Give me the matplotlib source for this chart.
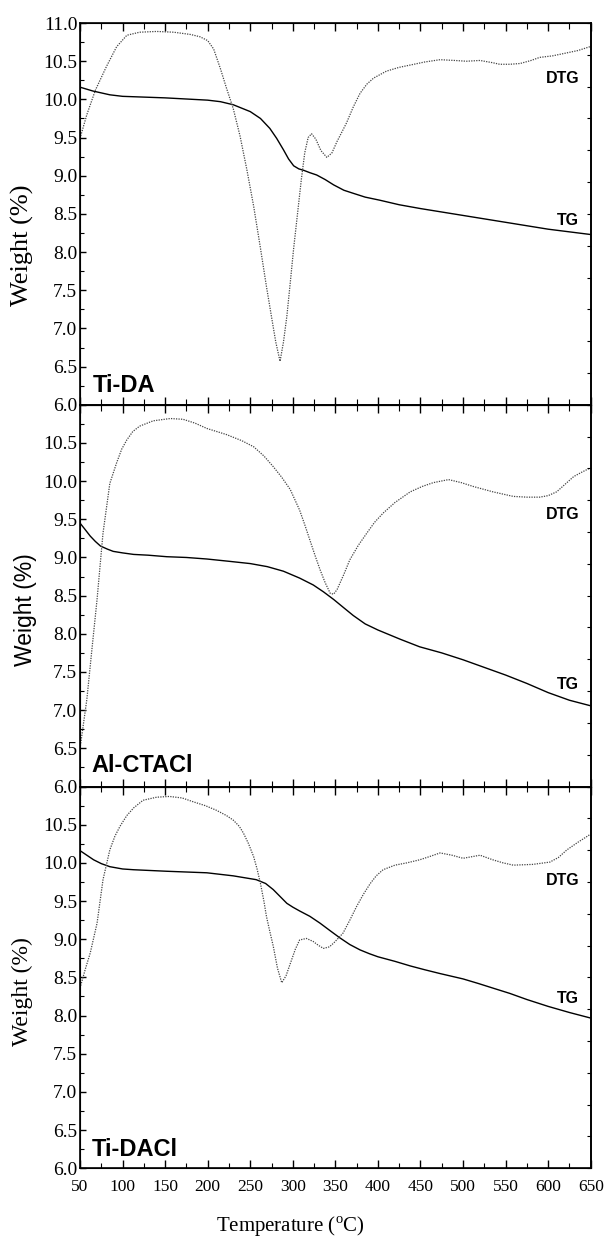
import matplotlib
matplotlib.use("Agg")
import matplotlib.pyplot as plt
from matplotlib.ticker import MultipleLocator, FixedLocator

plt.rcParams['font.family'] = ['Liberation Serif', 'DejaVu Serif']
plt.rcParams['mathtext.fontset'] = 'custom'
plt.rcParams['mathtext.rm'] = 'Liberation Serif'

# Ti-DA
t1_tg = [50, 65, 85, 100, 125, 150, 200, 215, 230, 250, 262, 273, 281, 289, 295, 301, 307, 313, 320, 328, 338,
         348, 360, 371, 385, 402, 425, 450, 500, 550, 600, 650]
w1_tg = [10.16, 10.11, 10.06, 10.04, 10.03, 10.02, 9.99, 9.97, 9.93, 9.84, 9.75, 9.62, 9.49, 9.34, 9.22, 9.13,
         9.09, 9.07, 9.04, 9.01, 8.95, 8.88, 8.81, 8.77, 8.72, 8.68, 8.62, 8.57, 8.48, 8.39, 8.30, 8.23]
t1_dtg = [50, 58, 68, 81, 93, 105, 120, 140, 160, 180, 191, 200, 207, 215, 222, 230, 238, 246, 254, 262, 269, 275,
          280, 285, 289, 293, 297, 301, 306, 310, 314, 318, 322, 327, 333, 340, 346, 352, 358, 363, 371, 379, 387,
          395, 410, 425, 438, 455, 473, 490, 504, 520, 535, 543, 555, 567, 580, 590, 605, 618, 635, 649]
w1_dtg = [9.49, 9.80, 10.12, 10.43, 10.69, 10.84, 10.88, 10.89, 10.88, 10.85, 10.82, 10.77, 10.66, 10.40, 10.15,
          9.88, 9.52, 9.08, 8.60, 8.05, 7.55, 7.15, 6.82, 6.57, 6.82, 7.16, 7.60, 8.05, 8.55, 8.95, 9.30, 9.50,
          9.55, 9.48, 9.33, 9.24, 9.30, 9.45, 9.58, 9.69, 9.90, 10.08, 10.20, 10.28, 10.37, 10.42, 10.45, 10.49,
          10.52, 10.51, 10.50, 10.51, 10.48, 10.46, 10.46, 10.47, 10.51, 10.55, 10.57, 10.60, 10.64, 10.69]

# Al-CTACl
t2_tg = [50, 55, 62, 68, 74, 82, 89, 100, 113, 130, 152, 175, 199, 225, 250, 270, 289, 308, 324, 336, 348, 360,
         371, 385, 400, 426, 449, 475, 500, 525, 550, 575, 600, 625, 649]
w2_tg = [9.45, 9.38, 9.28, 9.21, 9.15, 9.11, 9.08, 9.06, 9.04, 9.03, 9.01, 9.00, 8.98, 8.95, 8.92, 8.88, 8.82,
         8.73, 8.64, 8.55, 8.45, 8.34, 8.24, 8.13, 8.05, 7.93, 7.83, 7.75, 7.66, 7.56, 7.46, 7.35, 7.23, 7.13, 7.06]
t2_dtg = [50, 58, 64, 70, 77, 85, 93, 99, 105, 112, 120, 136, 156, 171, 185, 199, 222, 240, 254, 266, 277, 287,
          297, 308, 314, 320, 326, 332, 338, 344, 348, 352, 360, 367, 377, 387, 396, 406, 420, 438, 452, 465, 483,
          498, 512, 535, 559, 575, 590, 600, 610, 620, 630, 640, 649]
w2_dtg = [6.50, 7.14, 7.80, 8.45, 9.32, 9.97, 10.24, 10.42, 10.54, 10.65, 10.72, 10.79, 10.82, 10.81, 10.76,
          10.69, 10.61, 10.53, 10.45, 10.33, 10.19, 10.05, 9.89, 9.62, 9.43, 9.23, 9.03, 8.84, 8.67, 8.53, 8.52,
          8.58, 8.78, 8.97, 9.16, 9.32, 9.46, 9.58, 9.72, 9.86, 9.93, 9.98, 10.02, 9.98, 9.93, 9.86, 9.80, 9.79,
          9.79, 9.81, 9.86, 9.96, 10.06, 10.12, 10.17]

# Ti-DACl
t3_tg = [50, 58, 66, 75, 85, 100, 113, 152, 199, 230, 257, 268, 277, 285, 293, 300, 308, 320, 332, 344, 355, 367,
         379, 390, 400, 420, 438, 455, 473, 500, 518, 535, 555, 575, 600, 625, 649]
w3_tg = [10.16, 10.10, 10.04, 9.99, 9.95, 9.92, 9.91, 9.89, 9.87, 9.83, 9.78, 9.73, 9.65, 9.56, 9.47, 9.42, 9.37,
         9.30, 9.21, 9.11, 9.02, 8.93, 8.86, 8.81, 8.77, 8.71, 8.65, 8.60, 8.55, 8.48, 8.42, 8.36, 8.29, 8.21,
         8.12, 8.04, 7.97]
t3_dtg = [50, 56, 62, 70, 77, 85, 91, 97, 105, 113, 124, 140, 155, 170, 183, 197, 210, 222, 230, 237, 242, 248,
          254, 258, 262, 266, 269, 273, 277, 282, 287, 292, 297, 303, 308, 316, 324, 330, 336, 343, 348, 354, 359,
          367, 375, 383, 391, 398, 406, 420, 434, 449, 460, 473, 487, 500, 510, 520, 535, 547, 559, 582, 602, 612,
          622, 635, 649]
w3_dtg = [8.36, 8.60, 8.82, 9.21, 9.78, 10.17, 10.35, 10.48, 10.62, 10.72, 10.82, 10.86, 10.87, 10.85, 10.80,
          10.75, 10.69, 10.62, 10.56, 10.48, 10.39, 10.25, 10.08, 9.92, 9.73, 9.50, 9.30, 9.10, 8.91, 8.62, 8.43,
          8.52, 8.68, 8.87, 8.99, 9.01, 8.97, 8.92, 8.88, 8.90, 8.95, 9.02, 9.08, 9.25, 9.43, 9.59, 9.73, 9.83,
          9.91, 9.97, 10.00, 10.04, 10.08, 10.13, 10.10, 10.06, 10.08, 10.10, 10.04, 10.00, 9.97, 9.98, 10.01,
          10.07, 10.17, 10.27, 10.37]

panels = [
    ("Ti-DA", t1_tg, w1_tg, t1_dtg, w1_dtg),
    ("Al-CTACl", t2_tg, w2_tg, t2_dtg, w2_dtg),
    ("Ti-DACl", t3_tg, w3_tg, t3_dtg, w3_dtg),
]
# label positions (axes fraction): name, DTG, TG
label_pos = [
    ((0.025, 0.034), (0.978, 0.842), (0.976, 0.471)),
    ((0.023, 0.039), (0.978, 0.701), (0.976, 0.256)),
    ((0.023, 0.032), (0.978, 0.742), (0.976, 0.432)),
]
ylabel_pos = [(0.0364, 0.8023, 'serif', 19), (0.0414, 0.5077, 'sans', 16.5), (0.0373, 0.1994, 'serif', 17)]

fig, axes = plt.subplots(3, 1, figsize=(6.04, 12.39), dpi=100, sharex=True)
fig.subplots_adjust(left=0.1325, right=0.978, bottom=0.0571, top=0.9814, hspace=0)

yt = [6.0 + 0.5 * i for i in range(11)]
for i, (ax, (name, ttg, wtg, tdtg, wdtg)) in enumerate(zip(axes, panels)):
    ax.plot(ttg, wtg, color='black', lw=1.0)
    ax.plot(tdtg, wdtg, color='#444444', lw=0.9, linestyle=(0, (1, 1)))
    ax.set_xlim(50, 650)
    ax.set_ylim(6.0, 11.0)
    ax.yaxis.set_major_locator(FixedLocator(yt))
    ax.yaxis.set_minor_locator(MultipleLocator(0.25))
    labs = ['%.1f' % v for v in yt]
    if i > 0:
        labs[-1] = ''
    ax.set_yticklabels(labs)
    ax.tick_params(axis='y', which='both', direction='in', left=True, right=False, labelsize=14, pad=2)
    ax.tick_params(axis='y', which='major', length=4, width=1)
    ax.tick_params(axis='y', which='minor', length=3, width=0.8)
    for sp in ax.spines.values():
        sp.set_linewidth(1.2)

    # right-hand DTG scale ticks (no labels)
    ax2 = ax.twinx()
    ax2.set_ylim(0, 12)
    ax2.yaxis.set_major_locator(MultipleLocator(1))
    ax2.tick_params(axis='y', direction='in', length=3, width=0.8, labelright=False)
    ax2.spines['right'].set_linewidth(1.2)

    if i < 2:
        ax.xaxis.set_major_locator(MultipleLocator(100))
        ax.xaxis.set_minor_locator(MultipleLocator(50))
        ax.tick_params(axis='x', which='both', direction='in', top=True, bottom=True, labelbottom=False)
        ax.tick_params(axis='x', which='major', length=6, width=1)
        ax.tick_params(axis='x', which='minor', length=4.5, width=0.8)
    else:
        ax.xaxis.set_major_locator(MultipleLocator(50))
        ax.xaxis.set_minor_locator(MultipleLocator(25))
        ax.tick_params(axis='x', which='both', direction='in', top=True, bottom=True, labelsize=12.5, pad=7.5)
        ax.tick_params(axis='x', which='major', length=6, width=1)
        ax.tick_params(axis='x', which='minor', length=3.5, width=0.8)

    (nx, ny), (dx, dy), (gx, gy) = label_pos[i]
    ax.text(nx, ny, name, transform=ax.transAxes, family='Liberation Sans', fontweight='bold',
            fontsize=17, ha='left', va='baseline')
    ax.text(dx, dy, 'DTG', transform=ax.transAxes, family='Liberation Sans', fontweight='bold',
            fontsize=11.5, ha='right', va='baseline')
    ax.text(gx, gy, 'TG', transform=ax.transAxes, family='Liberation Sans', fontweight='bold',
            fontsize=11.5, ha='right', va='baseline')

    lx, ly, kind, fs = ylabel_pos[i]
    fam = 'Liberation Serif' if kind == 'serif' else 'Liberation Sans'
    fig.text(lx, ly, 'Weight (%)', family=fam, fontsize=fs, rotation=90, ha='center', va='center')

fig.text(0.480, 0.0097, r'Temperature ($^{\mathrm{o}}$C)', fontsize=15, ha='center', va='center')

fig.savefig('out.png', dpi=100)
